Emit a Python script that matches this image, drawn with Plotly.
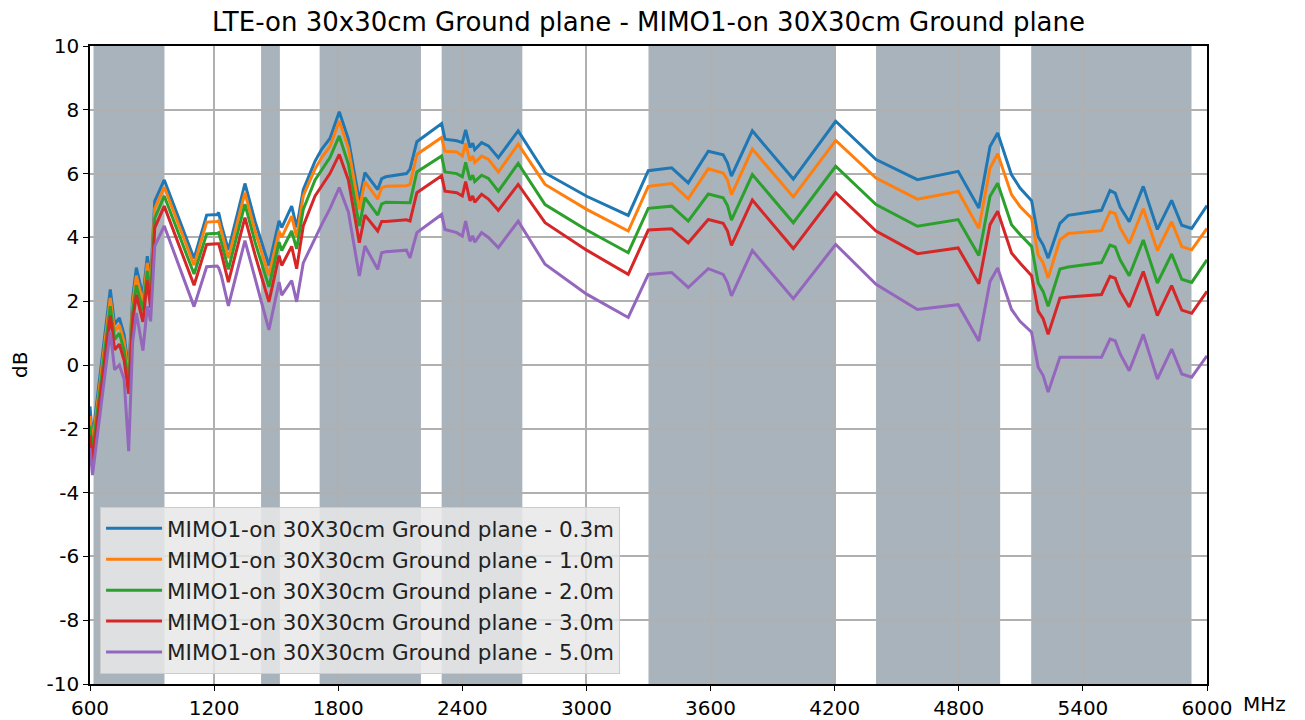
import plotly.graph_objects as go

# frequency points (MHz)
freq = [600, 612, 698, 719, 742, 765, 787, 806, 824, 856, 877, 893, 913, 959,
        1103, 1164, 1215, 1222, 1235, 1269, 1349, 1398, 1465, 1514, 1527, 1575, 1599,
        1631, 1688, 1720, 1760, 1805, 1849, 1902, 1929, 1991, 2010, 2030, 2130, 2147,
        2180, 2300, 2316, 2373, 2400, 2416, 2437, 2450, 2460, 2493, 2526, 2574, 2670,
        2800, 3001, 3202, 3299, 3412, 3492, 3589, 3661, 3682, 3701, 3802, 4000, 4205,
        4400, 4600, 4797, 4897, 4951, 4988, 5055, 5096, 5152, 5184, 5208, 5232, 5289,
        5329, 5490, 5531, 5556, 5580, 5624, 5692, 5760, 5829, 5878, 5926, 6000]

gain_03m = [-1.3, -2.3, 2.37, 1.27, 1.48, 0.95, -0.2, 2.1, 3.05, 2.16, 3.41, 2.6, 5.14, 5.8,
            3.34, 4.7, 4.72, 4.78, 4.4, 3.6, 5.69, 4.5, 3.12, 4.52, 4.31, 4.98, 4.31,
            5.5, 6.39, 6.76, 7.1, 7.94, 7.08, 5.14, 6.03, 5.5, 5.84, 5.9, 6.0, 6.14,
            7.0, 7.57, 7.08, 7.03, 6.97, 7.37, 6.82, 6.95, 6.75, 6.97, 6.87, 6.5, 7.34,
            6.02, 5.29, 4.69, 6.09, 6.18, 5.71, 6.7, 6.59, 6.33, 5.92, 7.34, 5.83, 7.64,
            6.44, 5.81, 6.07, 4.92, 6.85, 7.27, 5.96, 5.55, 5.15, 4.02, 3.76, 3.35, 4.44,
            4.69, 4.85, 5.47, 5.39, 4.95, 4.49, 5.6, 4.25, 5.16, 4.38, 4.28, 5.0]

gain_10m = [-1.6, -2.5, 2.1, 1.06, 1.25, 0.72, -0.4, 1.9, 2.8, 1.95, 3.2, 2.4, 4.9, 5.58,
            3.13, 4.48, 4.5, 4.52, 4.2, 3.35, 5.4, 4.2, 2.8, 4.2, 4.0, 4.67, 4.0,
            5.3, 6.15, 6.5, 6.85, 7.65, 6.8, 4.88, 5.75, 5.2, 5.55, 5.6, 5.62, 5.66,
            6.6, 7.13, 6.7, 6.68, 6.55, 6.95, 6.4, 6.55, 6.35, 6.55, 6.45, 6.05, 6.92,
            5.66, 4.88, 4.2, 5.6, 5.69, 5.21, 6.15, 6.02, 5.8, 5.34, 6.77, 5.27, 7.04,
            5.86, 5.2, 5.44, 4.29, 6.17, 6.62, 5.34, 4.97, 4.6, 3.45, 3.2, 2.73, 3.92,
            4.12, 4.21, 4.8, 4.75, 4.3, 3.81, 4.9, 3.59, 4.49, 3.71, 3.61, 4.28]

gain_20m = [-1.9, -2.7, 1.84, 0.8, 1.0, 0.45, -0.6, 1.65, 2.5, 1.7, 2.95, 2.15, 4.6, 5.3,
            2.85, 4.11, 4.13, 4.15, 3.85, 3.0, 5.04, 3.85, 2.45, 3.85, 3.59, 4.2, 3.64,
            4.88, 5.8, 6.1, 6.5, 7.18, 6.3, 4.36, 5.25, 4.7, 5.05, 5.1, 5.1, 5.09,
            6.05, 6.55, 6.05, 6.0, 5.9, 6.35, 5.8, 5.95, 5.75, 5.95, 5.85, 5.45, 6.32,
            5.03, 4.23, 3.52, 4.91, 4.98, 4.51, 5.36, 5.24, 5.0, 4.54, 5.97, 4.46, 6.23,
            5.03, 4.35, 4.56, 3.43, 5.29, 5.7, 4.4, 4.09, 3.72, 2.57, 2.3, 1.84, 3.01,
            3.07, 3.21, 3.76, 3.7, 3.3, 2.8, 3.92, 2.57, 3.48, 2.69, 2.59, 3.3]

gain_30m = [-2.2, -3.0, 1.55, 0.48, 0.65, 0.15, -0.9, 1.35, 2.2, 1.35, 2.65, 1.8, 4.3, 4.98,
            2.5, 3.78, 3.8, 3.8, 3.5, 2.6, 4.62, 3.45, 1.98, 3.43, 3.12, 3.72, 3.02,
            4.36, 5.3, 5.6, 6.0, 6.6, 5.8, 3.83, 4.7, 4.2, 4.5, 4.5, 4.55, 4.51,
            5.4, 5.93, 5.45, 5.4, 5.3, 5.75, 5.15, 5.3, 5.1, 5.35, 5.2, 4.85, 5.66,
            4.46, 3.6, 2.84, 4.23, 4.27, 3.83, 4.56, 4.44, 4.2, 3.75, 5.17, 3.65, 5.4,
            4.2, 3.49, 3.67, 2.55, 4.4, 4.82, 3.51, 3.2, 2.8, 1.69, 1.45, 0.96, 2.1,
            2.13, 2.21, 2.78, 2.72, 2.3, 1.82, 2.93, 1.55, 2.49, 1.72, 1.62, 2.31]

gain_50m = [-2.6, -3.45, 1.05, -0.15, 0.0, -0.45, -2.7, 0.7, 1.63, 0.45, 1.84, 1.37, 3.73, 4.36,
            1.83, 3.08, 3.1, 3.05, 2.8, 1.85, 3.9, 2.75, 1.1, 2.6, 2.19, 2.65, 1.98,
            3.2, 4.0, 4.4, 4.9, 5.56, 4.8, 2.79, 3.73, 3.0, 3.52, 3.55, 3.6, 3.36,
            4.15, 4.72, 4.25, 4.15, 4.04, 4.51, 3.88, 4.05, 3.85, 4.15, 4.0, 3.68, 4.51,
            3.16, 2.22, 1.49, 2.84, 2.9, 2.43, 3.02, 2.84, 2.58, 2.17, 3.59, 2.08, 3.78,
            2.53, 1.74, 1.89, 0.75, 2.62, 3.04, 1.74, 1.37, 1.03, -0.07, -0.33, -0.85, 0.24,
            0.24, 0.24, 0.81, 0.76, 0.35, -0.18, 0.96, -0.44, 0.5, -0.28, -0.38, 0.29]

series_names = ["MIMO1-on 30X30cm Ground plane - 0.3m",
                "MIMO1-on 30X30cm Ground plane - 1.0m",
                "MIMO1-on 30X30cm Ground plane - 2.0m",
                "MIMO1-on 30X30cm Ground plane - 3.0m",
                "MIMO1-on 30X30cm Ground plane - 5.0m"]
colors = ["#1f77b4", "#ff7f0e", "#2ca02c", "#d62728", "#9467bd"]

# LTE band spans (MHz) that get shaded
band_start = [617, 1427, 1710, 2300, 3300, 4400, 5150]
band_end = [960, 1518, 2200, 2690, 4200, 5000, 5925]

xticks = [600, 1200, 1800, 2400, 3000, 3600, 4200, 4800, 5400, 6000]
yticks = list(range(-10, 11, 2))

font = "DejaVu Sans"

fig = go.Figure()
for name, vals, c in zip(series_names,
                         [gain_03m, gain_10m, gain_20m, gain_30m, gain_50m], colors):
    fig.add_trace(go.Scatter(x=freq, y=vals, mode="lines", name=name,
                             line=dict(color=c, width=3)))

for s, e in zip(band_start, band_end):
    fig.add_vrect(x0=s, x1=e, fillcolor="rgba(112,128,144,0.6)", line_width=0, layer="below")

fig.update_layout(
    width=1305, height=720,
    margin=dict(l=90, r=98, t=46, b=36, autoexpand=False),
    paper_bgcolor="white", plot_bgcolor="white",
    font=dict(family=font, size=20, color="black"),
    title=dict(text="LTE-on 30x30cm Ground plane - MIMO1-on 30X30cm Ground plane",
               x=0.5, xref="paper", y=0.969, yanchor="middle",
               font=dict(family=font, size=26, color="black")),
    showlegend=True,
    legend=dict(x=0.009, y=0.016, xanchor="left", yanchor="bottom",
                bgcolor="rgba(232,232,232,0.85)", bordercolor="#cccccc", borderwidth=1,
                font=dict(family=font, size=21.5, color="#222222"),
                tracegroupgap=0, itemwidth=56),
)

fig.update_xaxes(range=[600, 6000], tickvals=xticks, ticktext=[str(v) for v in xticks],
                 showgrid=True, gridcolor="#b0b0b0", gridwidth=1.5, automargin=False,
                 showline=True, linecolor="black", linewidth=1.5, mirror=True,
                 ticks="outside", ticklen=5, tickcolor="black", zeroline=False,
                 tickfont=dict(size=20))
fig.update_yaxes(range=[-10, 10], tickvals=yticks, ticktext=[str(v) for v in yticks],
                 showgrid=True, gridcolor="#b0b0b0", gridwidth=1.5, automargin=False,
                 showline=True, linecolor="black", linewidth=1.5, mirror=True,
                 ticks="outside", ticklen=5, tickcolor="black", zeroline=False,
                 tickfont=dict(size=20))

fig.add_annotation(text="dB", textangle=-90, x=0, xref="paper", y=0.5, yref="paper",
                   xanchor="center", yanchor="middle", xshift=-70,
                   showarrow=False, font=dict(family=font, size=20, color="black"))
fig.add_annotation(text="MHz", x=1, xref="paper", y=0, yref="paper",
                   xanchor="left", yanchor="top", xshift=34, yshift=-6,
                   showarrow=False, font=dict(family=font, size=20, color="black"))

# drop the default 8px body margin so the figure fills the window exactly
fig.write_html("out.html", config={"displayModeBar": False},
               post_script="document.body.style.margin='0';")
